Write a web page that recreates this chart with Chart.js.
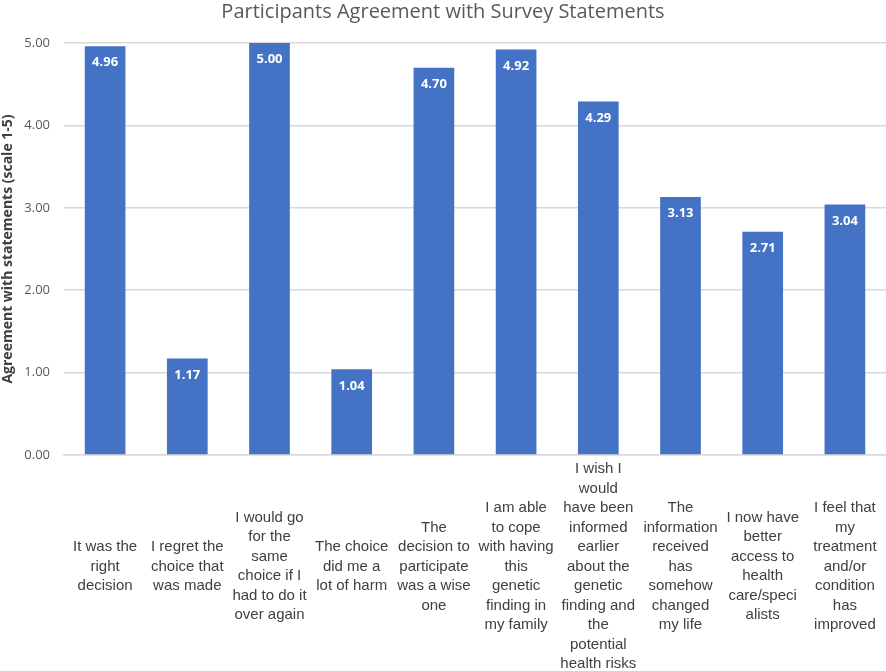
<!DOCTYPE html>
<html>
<head>
<meta charset="utf-8">
<script src="https://cdn.jsdelivr.net/npm/chart.js@4"></script>
<style>
  html, body { margin: 0; padding: 0; background: #fff; }
  #wrap { width: 886px; height: 671px; }
</style>
</head>
<body>
<div id="wrap"><canvas id="chart"></canvas></div>
<script>
// categories (already wrapped like the original)
const statements = [
    ['It was the', 'right', 'decision'],
    ['I regret the', 'choice that', 'was made'],
    ['I would go', 'for the', 'same', 'choice if I', 'had to do it', 'over again'],
    ['The choice', 'did me a', 'lot of harm'],
    ['The', 'decision to', 'participate', 'was a wise', 'one'],
    ['I am able', 'to cope', 'with having', 'this', 'genetic', 'finding in', 'my family'],
    ['I wish I', 'would', 'have been', 'informed', 'earlier', 'about the', 'genetic', 'finding and', 'the', 'potential', 'health risks'],
    ['The', 'information', 'received', 'has', 'somehow', 'changed', 'my life'],
    ['I now have', 'better', 'access to', 'health', 'care/speci', 'alists'],
    ['I feel that', 'my', 'treatment', 'and/or', 'condition', 'has', 'improved']
];
const agreement = [4.96, 1.17, 5.00, 1.04, 4.70, 4.92, 4.29, 3.13, 2.71, 3.04];
const yTicks = [0, 1, 2, 3, 4, 5];

// white value labels inside the top of each bar
const barValues = {
    id: 'barValues',
    afterDatasetsDraw(chart) {
        const ctx = chart.ctx;
        const meta = chart.getDatasetMeta(0);
        ctx.save();
        ctx.fillStyle = '#ffffff';
        ctx.font = 'bold 13px "Open Sans"';
        ctx.textAlign = 'center';
        ctx.textBaseline = 'middle';
        meta.data.forEach((bar, i) => {
            ctx.fillText(agreement[i].toFixed(2), bar.x, bar.y + 16.5);
        });
        ctx.restore();
    }
};

new Chart(document.getElementById('chart'), {
    type: 'bar',
    data: {
        labels: statements,
        datasets: [{
            data: agreement,
            backgroundColor: '#4472C4',
            barPercentage: 0.495,
            categoryPercentage: 1.0,
        }]
    },
    options: {
        responsive: true,
        maintainAspectRatio: false,
        animation: false,
        layout: { padding: { left: 0, right: 0, top: 0, bottom: 0 } },
        plugins: {
            legend: { display: false },
            tooltip: { enabled: false },
            title: {
                display: true,
                text: 'Participants Agreement with Survey Statements',
                color: '#595959',
                font: { family: 'Open Sans', size: 20, weight: 'normal' },
                padding: { top: 0, bottom: 19 },
            },
        },
        scales: {
            x: {
                grid: { display: false, drawTicks: false },
                border: { color: '#d9d9d9', width: 1.5 },
                ticks: {
                    color: '#404040',
                    font: { family: 'Liberation Sans', size: 15, lineHeight: 1.3 },
                    maxRotation: 0,
                    minRotation: 0,
                    autoSkip: false,
                    crossAlign: 'center',
                    padding: 14,
                },
                afterFit(scale) {
                    scale.height = 216;
                    scale.paddingLeft = 0;
                    scale.paddingRight = 0;
                },
            },
            y: {
                min: 0,
                max: 5,
                afterBuildTicks(scale) { scale.ticks = yTicks.map(v => ({ value: v })); },
                grid: { color: '#d9d9d9', lineWidth: 1.5, drawTicks: false },
                border: { display: false },
                ticks: {
                    color: '#595959',
                    font: { family: 'Open Sans', size: 13 },
                    padding: 14,
                    callback: v => v.toFixed(2),
                },
                title: {
                    display: true,
                    text: 'Agreement with statements (scale 1-5)',
                    color: '#404040',
                    font: { family: 'Open Sans', size: 14, weight: 'bold' },
                    padding: { top: 0, bottom: 0 },
                },
                afterFit(scale) { scale.width = 64; },
            }
        }
    },
    plugins: [barValues]
});
</script>
</body>
</html>
